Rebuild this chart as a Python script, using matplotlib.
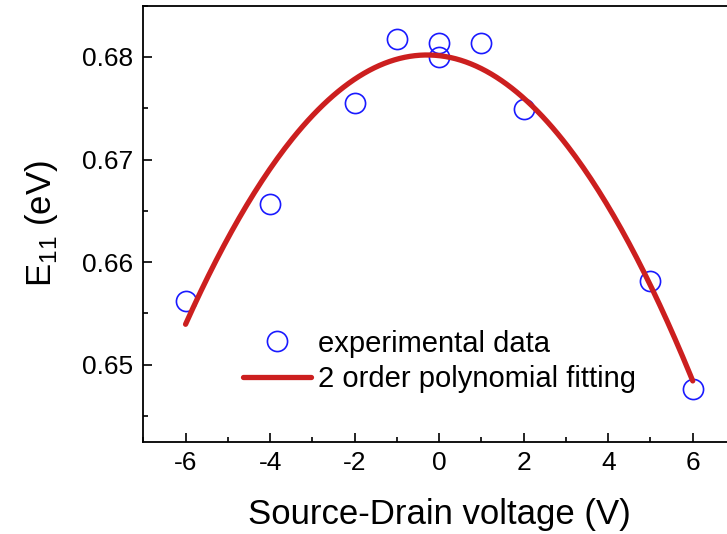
import numpy as np
import matplotlib
matplotlib.use("Agg")
import matplotlib.pyplot as plt
from matplotlib.ticker import MultipleLocator

plt.rcParams['font.family'] = ['Liberation Sans', 'DejaVu Sans']
plt.rcParams['mathtext.fontset'] = 'custom'
plt.rcParams['mathtext.rm'] = 'Liberation Sans'

# data
voltage = [-6, -4, -2, -1, 0, 0, 1, 2, 5, 6]
energy = [0.65623, 0.66565, 0.67549, 0.68175, 0.68136, 0.68000, 0.68136, 0.67493, 0.65818, 0.64766]

# quadratic fit coefficients (a*x^2 + b*x + c)
fit_coeffs = [-0.000804, -0.00046, 0.68013]
fit_range = [-6, 6]

fig = plt.figure(figsize=(7.27, 5.34), dpi=100)
ax = fig.add_axes([143.3 / 727, (534 - 441.7) / 534, (735 - 143.3) / 727, (441.7 - 5.7) / 534])

xf = np.linspace(fit_range[0], fit_range[1], 200)
yf = np.polyval(fit_coeffs, xf)

ax.plot(voltage, energy, linestyle='none', marker='o', markersize=14.5,
        markerfacecolor='none', markeredgecolor='#1a1aff', markeredgewidth=1.2,
        label='experimental data', zorder=2)
ax.plot(xf, yf, color='#cc1f1f', lw=3.8, solid_capstyle='round',
        label='2 order polynomial fitting', zorder=3)

ax.set_xlim(-7, 7)
ax.set_ylim(0.6425, 0.685)
ax.xaxis.set_minor_locator(MultipleLocator(1))
ax.yaxis.set_minor_locator(MultipleLocator(0.005))
ax.set_yticks([0.65, 0.66, 0.67, 0.68])
ax.set_yticklabels(['0.65', '0.66', '0.67', '0.68'])
ax.set_xticks([-6, -4, -2, 0, 2, 4, 6])
ax.set_xticklabels(['-6', '-4', '-2', '0', '2', '4', '6'])

ax.tick_params(which='both', direction='in', top=False, right=False, width=1.2)
ax.tick_params(which='major', length=6.8, labelsize=19, pad=7)
ax.tick_params(which='minor', length=3.4)
for sp in ax.spines.values():
    sp.set_linewidth(1.3)

ax.set_xlabel('Source-Drain voltage (V)', fontsize=25, labelpad=16)
ax.set_ylabel(r'E$_{11}$ (eV)', fontsize=25, labelpad=16)

leg = ax.legend(loc='upper left', bbox_to_anchor=(0.149, 0.284), frameon=False,
                fontsize=21, handlelength=2.33, handletextpad=0.25,
                labelspacing=0.25, borderaxespad=0)

fig.savefig('out.png', dpi=100)
